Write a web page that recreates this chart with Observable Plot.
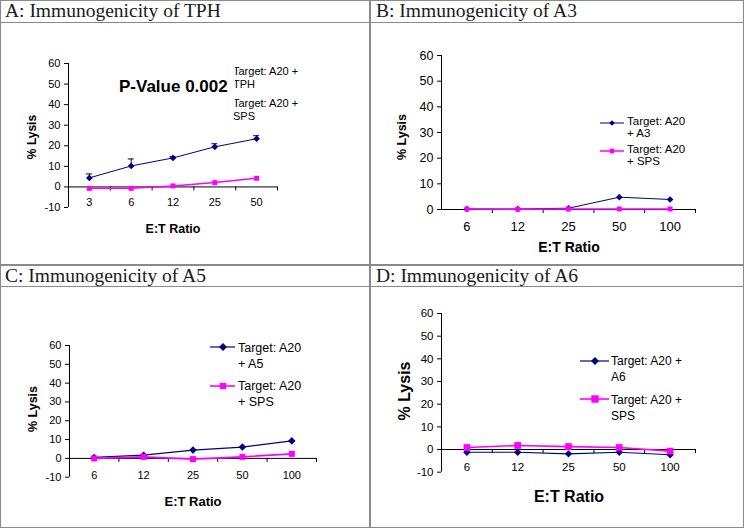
<!DOCTYPE html>
<html><head><meta charset="utf-8">
<script src="https://cdn.jsdelivr.net/npm/d3@7"></script>
<script src="https://cdn.jsdelivr.net/npm/@observablehq/plot@0.6"></script>
<style>
body{margin:0;background:#fff;}
#fig{position:relative;width:744px;height:528px;overflow:hidden;background:#fff;font-family:"Liberation Sans",Arial,sans-serif;color:#000;}
.ln{position:absolute;background:#8a8a8a;}
.title{position:absolute;font-family:"Liberation Serif",serif;font-size:19.5px;color:#1a1a1a;white-space:nowrap;line-height:22px;}
.abs{position:absolute;white-space:nowrap;}
.plot{position:absolute;}
.axt{position:absolute;font-weight:bold;white-space:nowrap;transform:translate(-50%,-50%);}
.axy{position:absolute;font-weight:bold;white-space:nowrap;transform:translate(-50%,-50%) rotate(-90deg);}
</style></head><body><div id="fig"></div>
<script>
// ---- data ----
const catsA = ["3", "6", "12", "25", "50"];
const catsBCD = ["6", "12", "25", "50", "100"];

const lysisTPH = [4.4, 10.2, 14.1, 19.5, 23.4];
const errTPH = [1.9, 3.4, 0.6, 1.5, 1.5];
const lysisSPS_A = [-0.7, -0.7, 0.5, 2.1, 4.2];

const lysisA3 = [0.2, 0.2, 0.5, 4.8, 3.9];
const lysisSPS_B = [0.2, 0.1, 0.2, 0.2, 0.2];

const lysisA5 = [0.5, 1.7, 4.4, 6.0, 9.3];
const lysisSPS_C = [0.0, 0.8, -0.4, 0.8, 2.4];

const lysisA6 = [-1.2, -1.2, -1.9, -1.2, -2.3];
const lysisSPS_D = [0.9, 1.8, 1.3, 0.9, -0.7];

const titles = ["A: Immunogenicity of TPH", "B: Immunogenicity of A3", "C: Immunogenicity of A5", "D: Immunogenicity of A6"];
const legendA = ["Target: A20 +\nTPH", "Target: A20 +\nSPS"];
const legendB = ["Target: A20\n+ A3", "Target: A20\n+ SPS"];
const legendC = ["Target: A20\n+ A5", "Target: A20\n+ SPS"];
const legendD = ["Target: A20 +\nA6", "Target: A20 +\nSPS"];
const xTitle = "E:T Ratio";
const yTitle = "% Lysis";
const pValue = "P-Value 0.002";

const NAVY = "#000080", MAG = "#ff00ff";
const fig = document.getElementById("fig");

function el(cls, css, html) {
  const d = document.createElement("div");
  d.className = cls;
  Object.assign(d.style, css);
  if (html != null) d.innerHTML = html;
  fig.appendChild(d);
  return d;
}

// ---- frame lines ----
el("ln", {left:"0px", top:"0px", width:"744px", height:"1px"});
el("ln", {left:"0px", top:"527px", width:"744px", height:"1px"});
el("ln", {left:"0px", top:"0px", width:"1px", height:"528px"});
el("ln", {left:"743px", top:"0px", width:"1px", height:"528px"});
el("ln", {left:"369px", top:"0px", width:"2px", height:"528px"});
el("ln", {left:"0px", top:"264px", width:"744px", height:"2px"});
el("ln", {left:"0px", top:"22px", width:"744px", height:"1px"});
el("ln", {left:"0px", top:"286px", width:"744px", height:"1px"});

el("title", {left:"5px", top:"0px"}, titles[0]);
el("title", {left:"376px", top:"0px"}, titles[1]);
el("title", {left:"5px", top:"265px"}, titles[2]);
el("title", {left:"376px", top:"265px"}, titles[3]);

function panel(cfg) {
  const {box, area, yDomain, cats, series, fx, fy, xdy} = cfg;
  const ml = area.x0 - box.left, mr = box.left + box.width - area.x1;
  const mt = area.yTop - box.top, mb = box.top + box.height - area.yBottom;
  const marks = [
    Plot.ruleX([-0.5], {stroke: "#000", strokeWidth: 1}),
    Plot.ruleY([0], {stroke: "#000", strokeWidth: 1}),
    Plot.ruleX([0.5, 1.5, 2.5, 3.5, 4.5], {y1: 0, y2: 0, insetBottom: -4, stroke: "#000"}),
    Plot.text(cats, {x: (d, i) => i, y: 0, dy: xdy, text: d => d, fontSize: fx, fill: "#000"})
  ];
  series.forEach(s => {
    const data = s.values.map((v, i) => ({i, v, hi: s.err ? v + s.err[i] : v}));
    marks.push(Plot.line(data, {x: "i", y: "v", stroke: s.color, strokeWidth: s.sw}));
    if (s.err) {
      marks.push(Plot.ruleX(data, {x: "i", y1: "v", y2: "hi", stroke: s.color, strokeWidth: 1}));
      marks.push(Plot.ruleY(data, {y: "hi", x1: "i", x2: "i", insetLeft: -3, insetRight: -3, stroke: s.color, strokeWidth: 1}));
    }
    marks.push(Plot.dot(data, {x: "i", y: "v", symbol: s.symbol, r: s.r, fill: s.color, stroke: "none"}));
  });
  const svg = Plot.plot({
    width: box.width, height: box.height,
    marginLeft: ml, marginRight: mr, marginTop: mt, marginBottom: mb,
    x: {domain: [-0.5, 4.5], axis: null},
    y: {domain: yDomain, ticks: d3.range(yDomain[0], yDomain[1] + 1, 10), tickSize: 4, tickPadding: 4, label: null, tickFormat: d => String(d)},
    style: {fontFamily: "Liberation Sans, Arial, sans-serif", fontSize: fy + "px", color: "#000", background: "transparent", overflow: "visible"},
    marks
  });
  svg.classList.add("plot");
  svg.style.position = "absolute";
  svg.style.left = box.left + "px";
  svg.style.top = box.top + "px";
  fig.appendChild(svg);
}

function legend(items, o) {
  items.forEach((it, k) => {
    const y = o.y[k];
    const sym = d3.symbol(it.symbol === "square" ? d3.symbolSquare : d3.symbolDiamond2, it.size)();
    const w = o.x2 - o.x1 + 10;
    el("abs", {left: (o.x1 - 5) + "px", top: (y - 8) + "px", width: w + "px", height: "16px"},
      `<svg width="${w}" height="16"><line x1="5" x2="${w - 5}" y1="8" y2="8" stroke="${it.color}" stroke-width="${it.sw}"/><path d="${sym}" transform="translate(${o.mx - o.x1 + 5},8)" fill="${it.color}"/></svg>`);
    const lines = it.label.split("\n");
    el("abs", {left: o.tx + "px", top: (o.ty[k] - o.lh / 2) + "px", fontSize: o.fs + "px", lineHeight: o.lh + "px"}, lines.join("<br>"));
  });
}

// ---- Panel A ----
panel({
  box: {left: 1, top: 24, width: 368, height: 240},
  area: {x0: 68, x1: 277, yTop: 63, yBottom: 207},
  yDomain: [-10, 60], cats: catsA, fx: 11, fy: 11, xdy: 16,
  series: [
    {values: lysisTPH, err: errTPH, color: NAVY, sw: 1, symbol: "diamond2", r: 3},
    {values: lysisSPS_A, color: MAG, sw: 1.5, symbol: "square", r: 2.8}
  ]
});
el("axt", {left: "173px", top: "229px", fontSize: "12.5px"}, xTitle);
el("axy", {left: "32px", top: "137px", fontSize: "12px"}, yTitle);
legend([
  {label: legendA[0], color: NAVY, sw: 1, symbol: "diamond", size: 14},
  {label: legendA[1], color: MAG, sw: 1.2, symbol: "square", size: 12}
], {x1: 209, x2: 230, mx: 219, y: [71, 103], tx: 233, ty: [71, 103], fs: 11, lh: 13});
el("abs", {left: "115px", top: "64px", width: "120px", height: "44px", background: "#fff"});
el("abs", {left: "119px", top: "77px", fontSize: "17px", fontWeight: "bold", lineHeight: "20px"}, pValue);

// ---- Panel B ----
panel({
  box: {left: 371, top: 24, width: 372, height: 240},
  area: {x0: 441, x1: 695, yTop: 55, yBottom: 209},
  yDomain: [0, 60], cats: catsBCD, fx: 13, fy: 12.5, xdy: 17,
  series: [
    {values: lysisA3, color: NAVY, sw: 1, symbol: "diamond2", r: 3},
    {values: lysisSPS_B, color: MAG, sw: 1.5, symbol: "square", r: 2.8}
  ]
});
el("axt", {left: "569px", top: "247px", fontSize: "14px"}, xTitle);
el("axy", {left: "402px", top: "137px", fontSize: "12.5px"}, yTitle);
legend([
  {label: legendB[0], color: NAVY, sw: 1, symbol: "diamond", size: 20},
  {label: legendB[1], color: MAG, sw: 1.5, symbol: "square", size: 22}
], {x1: 600, x2: 624, mx: 612, y: [123, 151], tx: 627, ty: [121, 149], fs: 11.5, lh: 12.5});

// ---- Panel C ----
panel({
  box: {left: 1, top: 288, width: 368, height: 239},
  area: {x0: 69, x1: 316, yTop: 345, yBottom: 476.7},
  yDomain: [-10, 60], cats: catsBCD, fx: 11, fy: 11, xdy: 17,
  series: [
    {values: lysisA5, color: NAVY, sw: 1.2, symbol: "diamond2", r: 3.4},
    {values: lysisSPS_C, color: MAG, sw: 1.6, symbol: "square", r: 3.4}
  ]
});
el("axt", {left: "193px", top: "501px", fontSize: "13px"}, xTitle);
el("axy", {left: "33px", top: "409px", fontSize: "12.5px"}, yTitle);
legend([
  {label: legendC[0], color: NAVY, sw: 1.2, symbol: "diamond", size: 40},
  {label: legendC[1], color: MAG, sw: 1.6, symbol: "square", size: 40}
], {x1: 210, x2: 235, mx: 223, y: [347, 386], tx: 238, ty: [348, 386], fs: 12.5, lh: 16});

// ---- Panel D ----
panel({
  box: {left: 371, top: 288, width: 372, height: 239},
  area: {x0: 441, x1: 695, yTop: 313, yBottom: 471.7},
  yDomain: [-10, 60], cats: catsBCD, fx: 11.5, fy: 11.5, xdy: 18,
  series: [
    {values: lysisA6, color: NAVY, sw: 1.2, symbol: "diamond2", r: 3.3},
    {values: lysisSPS_D, color: MAG, sw: 1.6, symbol: "square", r: 3.8}
  ]
});
el("axt", {left: "569px", top: "497px", fontSize: "16px"}, xTitle);
el("axy", {left: "405px", top: "391px", fontSize: "16px"}, yTitle);
legend([
  {label: legendD[0], color: NAVY, sw: 1.2, symbol: "diamond", size: 40},
  {label: legendD[1], color: MAG, sw: 1.6, symbol: "square", size: 55}
], {x1: 580, x2: 609, mx: 595, y: [361, 399], tx: 611, ty: [361, 400], fs: 12, lh: 16});
</script>
</body></html>
